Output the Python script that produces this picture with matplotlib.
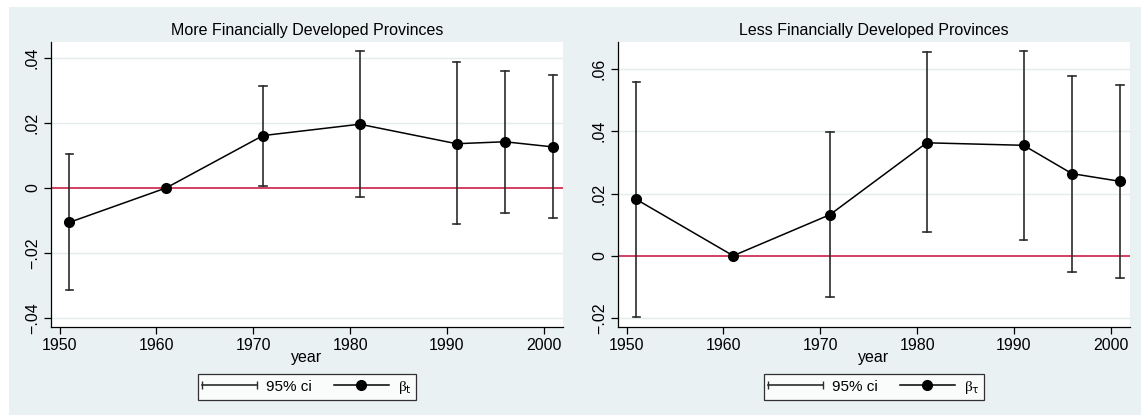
import matplotlib
matplotlib.use("Agg")
import matplotlib.pyplot as plt
from matplotlib.lines import Line2D
from matplotlib.patches import Rectangle
from matplotlib.legend_handler import HandlerLine2D

plt.rcParams['font.family'] = ['Liberation Sans', 'DejaVu Sans']

# Data
years = [1951, 1961, 1971, 1981, 1991, 1996, 2001]

# More financially developed provinces
beta_more = [-0.0106, 0.0, 0.0161, 0.0196, 0.0136, 0.0142, 0.0126]
lo_more = [-0.0315, None, 0.0007, -0.0028, -0.0111, -0.0076, -0.0092]
hi_more = [0.0105, None, 0.0315, 0.0420, 0.0387, 0.0361, 0.0346]

# Less financially developed provinces
beta_less = [0.0181, 0.0, 0.0132, 0.0363, 0.0355, 0.0264, 0.0239]
lo_less = [-0.0196, None, -0.0134, 0.0076, 0.0052, -0.0051, -0.0070]
hi_less = [0.0557, None, 0.0399, 0.0654, 0.0659, 0.0578, 0.0548]

titles = ["More Financially Developed Provinces", "Less Financially Developed Provinces"]
beta_labels = [r"β$_\mathrm{t}$", r"β$_\mathrm{τ}$"]
yticks_more = [-0.04, -0.02, 0, 0.02, 0.04]
yticks_less = [-0.02, 0, 0.02, 0.04, 0.06]
ytick_labels_more = ["\u2212.04", "\u2212.02", "0", ".02", ".04"]
ytick_labels_less = ["\u2212.02", "0", ".02", ".04", ".06"]
xticks = [1950, 1960, 1970, 1980, 1990, 2000]

bg = "#eaf1f3"
grid_col = "#e3ecee"
red = "#cc1f47"
bar_col = "#2b2b2b"

W, H = 1141, 415
fig = plt.figure(figsize=(W / 100, H / 100), dpi=100)
fig.patch.set_facecolor("white")
# light background panel
panel = Rectangle((9 / W, 0), 1 - 9 / W, 1 - 7 / H,
                  transform=fig.transFigure, facecolor=bg,
                  edgecolor="none", zorder=-10)
fig.add_artist(panel)

panels = [
    (51, beta_more, lo_more, hi_more, yticks_more, ytick_labels_more, (-0.0428, 0.0449)),
    (618, beta_less, lo_less, hi_less, yticks_less, ytick_labels_less, (-0.0229, 0.0687)),
]

for i, (x0, beta, lo, hi, yt, ytl, ylim) in enumerate(panels):
    ax = fig.add_axes([x0 / W, (H - 327) / H, 512 / W, 285 / H])
    ax.set_facecolor("white")

    for y in yt:
        if y != 0:
            ax.axhline(y, color=grid_col, lw=1.0, zorder=1)
    ax.axhline(0, color=red, lw=1.2, zorder=2)

    # confidence intervals
    for yr, l, h in zip(years, lo, hi):
        if l is None:
            continue
        ax.plot([yr, yr], [l, h], color=bar_col, lw=1.2, zorder=3)
        ax.plot([yr - 0.4, yr + 0.4], [l, l], color=bar_col, lw=1.2, zorder=3)
        ax.plot([yr - 0.4, yr + 0.4], [h, h], color=bar_col, lw=1.2, zorder=3)

    ax.plot(years, beta, color="black", lw=1.1, marker="o", ms=7, zorder=4)

    ax.set_xlim(1949.1, 2002.0)
    ax.set_ylim(*ylim)
    ax.set_xticks(xticks)
    ax.set_yticks(yt)
    ax.set_yticklabels(ytl, rotation=90, va="center")
    ax.tick_params(labelsize=11.5, length=5, width=0.9, color="black", pad=3)
    for s in ["top", "right"]:
        ax.spines[s].set_visible(False)
    for s in ["left", "bottom"]:
        ax.spines[s].set_linewidth(0.9)
    ax.set_xlabel("year", fontsize=11.5, labelpad=-2)
    ax.set_title(titles[i], fontsize=11.5, pad=5)

    ci_handle = Line2D([0, 1], [0, 0], color=bar_col, lw=1.2, marker="|", ms=6)
    b_handle = Line2D([0, 1], [0, 0], color="black", lw=1.1, marker="o", ms=7)
    leg = ax.legend([ci_handle, b_handle], ["95% ci", beta_labels[i]],
                    handler_map={ci_handle: HandlerLine2D(numpoints=2, marker_pad=0)},
                    loc="upper center", bbox_to_anchor=(0.5, -0.165), borderaxespad=0,
                    ncol=2, fontsize=11, handlelength=3.6, numpoints=1,
                    frameon=True, fancybox=False, edgecolor="black",
                    columnspacing=1.4, handletextpad=0.6, borderpad=0.3)
    leg.get_frame().set_linewidth(0.9)
    leg.get_texts()[1].set_family(["Liberation Serif", "DejaVu Serif"])

fig.savefig("out.png", dpi=100)
